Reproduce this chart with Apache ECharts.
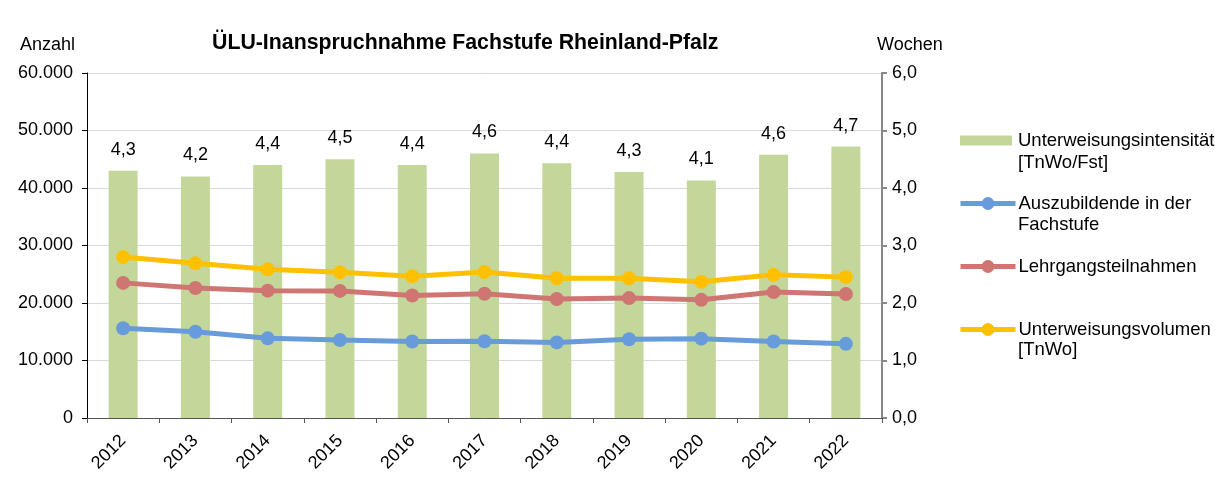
<!DOCTYPE html>
<html>
<head>
<meta charset="utf-8">
<script src="https://cdn.jsdelivr.net/npm/echarts@6/dist/echarts.min.js"></script>
<style>html,body{margin:0;padding:0;background:#fff}#c{width:1215px;height:488px}</style>
</head>
<body>
<div id="c"></div>
<script>
const years = ['2012','2013','2014','2015','2016','2017','2018','2019','2020','2021','2022'];
const intensitaet = [4.3, 4.2, 4.4, 4.5, 4.4, 4.6, 4.43, 4.28, 4.13, 4.58, 4.72];
const auszubildende = [15600, 15000, 13850, 13550, 13300, 13350, 13150, 13700, 13800, 13300, 12900];
const lehrgang = [23500, 22600, 22150, 22100, 21300, 21600, 20700, 20850, 20550, 21900, 21550];
const volumen = [28000, 26900, 25850, 25350, 24650, 25400, 24300, 24300, 23700, 24900, 24500];
const titleText = 'ÜLU-Inanspruchnahme Fachstufe Rheinland-Pfalz';
const leftAxisName = 'Anzahl';
const rightAxisName = 'Wochen';
const seriesNames = ['Unterweisungsintensität', 'Auszubildende in der', 'Lehrgangsteilnahmen', 'Unterweisungsvolumen'];
const secondLines = ['[TnWo/Fst]', 'Fachstufe', '', '[TnWo]'];

const FONT = '"Liberation Sans", Arial, sans-serif';
const LFS = 18.5;
const colors = ['#C4D79B', '#689BDA', '#CF7572', '#FFC000'];
const legendCenters = [140, 203, 266, 329];
const secondCenters = [163, 225, 0, 350];

const chart = echarts.init(document.getElementById('c'), null, {renderer: 'canvas'});

const legends = seriesNames.map((n, i) => ({
  data: [n],
  orient: 'vertical',
  left: i === 0 ? 960 : 958,
  top: legendCenters[i] - 9,
  padding: 0,
  icon: i === 0 ? 'rect' : undefined,
  itemWidth: i === 0 ? 52 : 55,
  itemHeight: i === 0 ? 10 : 16,
  itemGap: 0,
  lineStyle: {width: 5},
  textStyle: {fontFamily: FONT, fontSize: LFS, color: '#000', padding: i === 0 ? [0, 0, 0, 1] : [0, 0, 0, -2]}
}));

const graphics = [
  {type: 'text', left: 20, top: 36, style: {text: leftAxisName, font: '18px ' + FONT, fill: '#000'}},
  {type: 'text', left: 877, top: 36, style: {text: rightAxisName, font: '18px ' + FONT, fill: '#000'}}
];
secondLines.forEach((t, i) => {
  if (t) graphics.push({type: 'text', x: 1018, y: secondCenters[i], style: {text: t, font: LFS + 'px ' + FONT, fill: '#000', verticalAlign: 'middle', align: 'left'}});
});

const fmtThousands = v => v === 0 ? '0' : String(v).replace(/\B(?=(\d{3})+(?!\d))/g, '.');
const fmtComma = v => v.toFixed(1).replace('.', ',');

chart.setOption({
  animation: false,
  textStyle: {fontFamily: FONT},
  title: {
    text: titleText, left: 212, top: 33, padding: 0,
    textStyle: {fontFamily: FONT, fontSize: 21.3, fontWeight: 'bold', color: '#000'}
  },
  legend: legends,
  graphic: graphics,
  grid: {left: 87, right: 333, top: 73, bottom: 70, containLabel: false},
  xAxis: {
    type: 'category', data: years, boundaryGap: true,
    axisLine: {lineStyle: {color: '#555', width: 1}},
    axisTick: {show: true, length: 5, inside: false, lineStyle: {color: '#555'}, alignWithLabel: false},
    axisLabel: {rotate: 45, fontSize: 18, color: '#000', fontFamily: FONT, margin: 20}
  },
  yAxis: [
    {
      type: 'value', min: 0, max: 60000, interval: 10000, position: 'left',
      axisLine: {show: true, lineStyle: {color: '#000', width: 1}},
      axisTick: {show: true, length: 5, lineStyle: {color: '#000'}},
      splitLine: {show: true, lineStyle: {color: '#D9D9D9', width: 1}},
      axisLabel: {fontSize: 18, color: '#000', fontFamily: FONT, margin: 14, formatter: fmtThousands}
    },
    {
      type: 'value', min: 0, max: 6, interval: 1, position: 'right',
      axisLine: {show: true, lineStyle: {color: '#888', width: 2}},
      axisTick: {show: true, length: 5, lineStyle: {color: '#888', width: 2}},
      splitLine: {show: false},
      axisLabel: {fontSize: 18, color: '#000', fontFamily: FONT, margin: 10, formatter: fmtComma}
    }
  ],
  series: [
    {
      name: seriesNames[0], type: 'bar', yAxisIndex: 1, data: intensitaet, barWidth: 29,
      itemStyle: {color: colors[0]}, z: 1,
      label: {show: true, position: 'top', distance: 12, fontSize: 18, color: '#000', fontFamily: FONT,
              formatter: p => fmtComma(p.value)}
    },
    {
      name: seriesNames[1], type: 'line', yAxisIndex: 0, data: auszubildende,
      symbol: 'circle', symbolSize: 14, lineStyle: {width: 5, color: colors[1]}, itemStyle: {color: colors[1]}, z: 3
    },
    {
      name: seriesNames[2], type: 'line', yAxisIndex: 0, data: lehrgang,
      symbol: 'circle', symbolSize: 14, lineStyle: {width: 5, color: colors[2]}, itemStyle: {color: colors[2]}, z: 3
    },
    {
      name: seriesNames[3], type: 'line', yAxisIndex: 0, data: volumen,
      symbol: 'circle', symbolSize: 14, lineStyle: {width: 5, color: colors[3]}, itemStyle: {color: colors[3]}, z: 3
    }
  ]
});
</script>
</body>
</html>
